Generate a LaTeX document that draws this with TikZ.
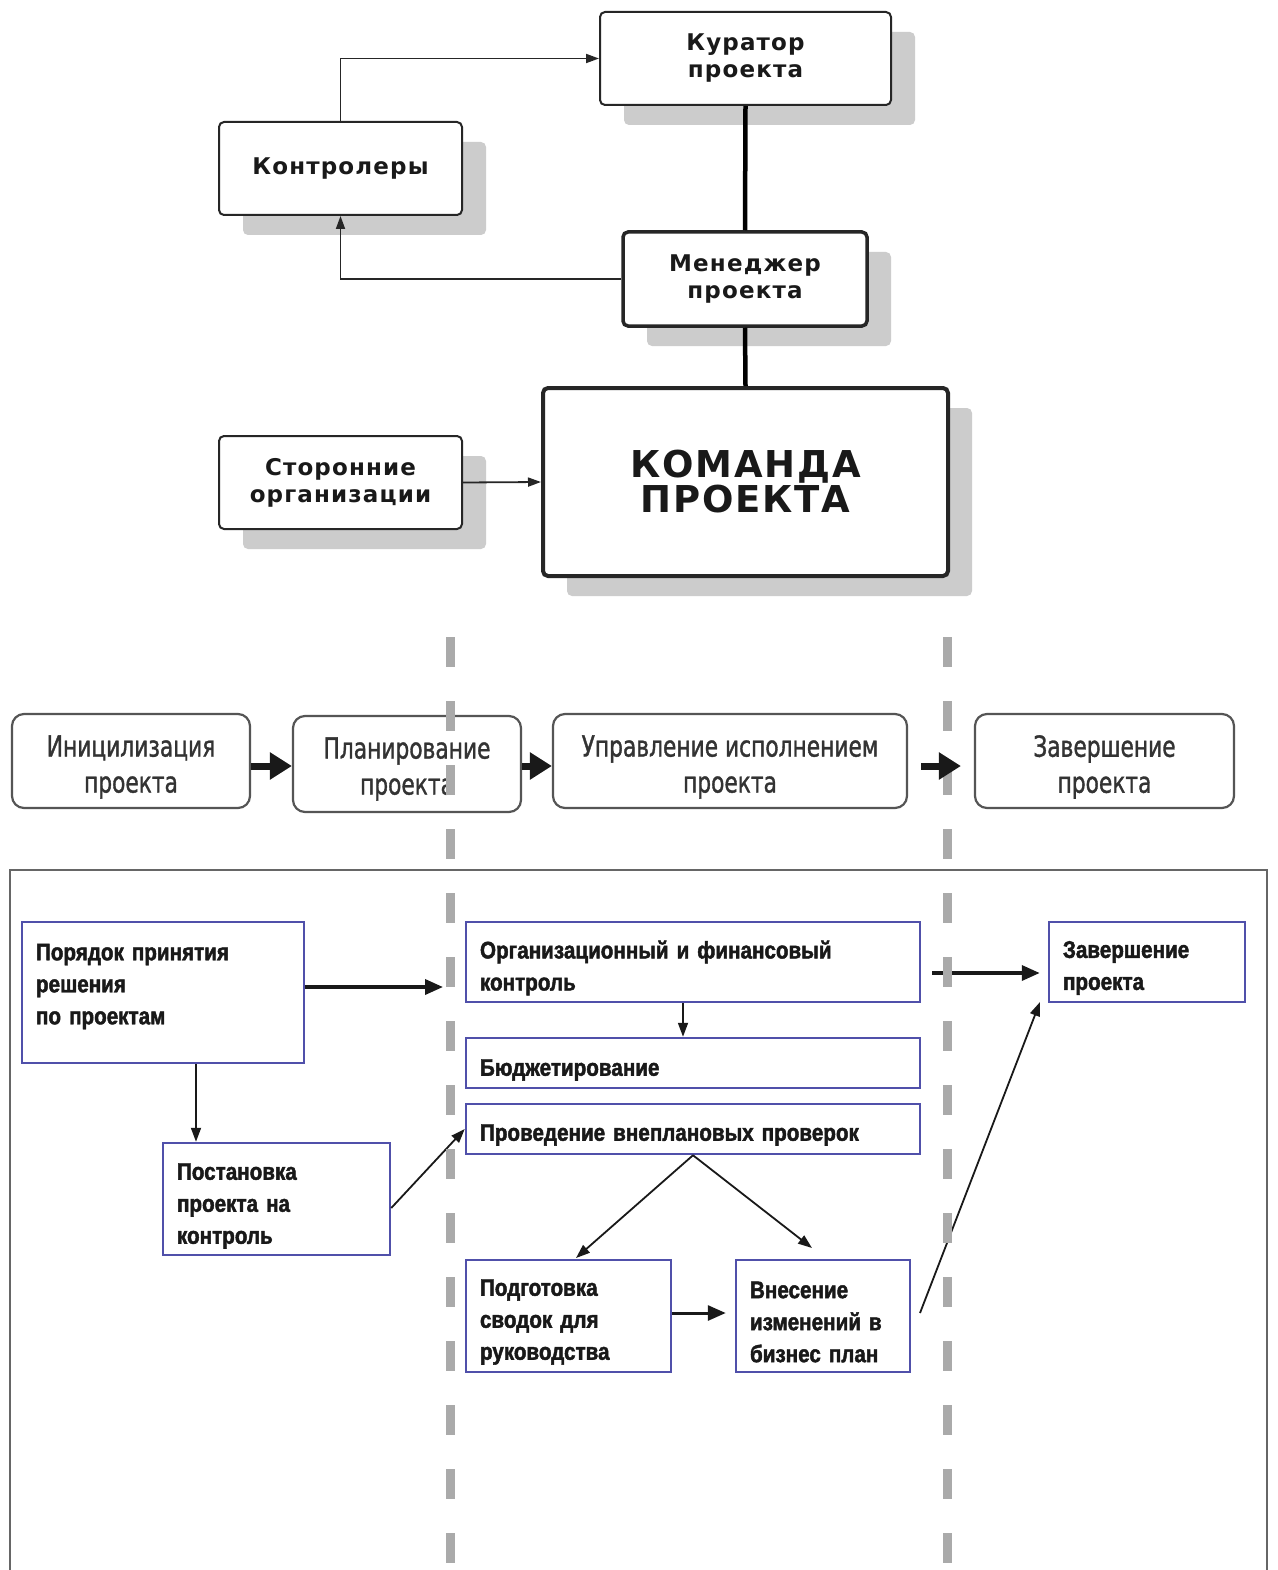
\documentclass[tikz,border=0pt]{standalone}
\usepackage{fontspec}
\usetikzlibrary{shadows,arrows.meta,calc}
\newfontfamily\topfont[LetterSpace=5]{DejaVu Sans}
\newfontfamily\phasefont[FakeStretch=0.75,FakeBold=1.2]{DejaVu Sans}
\newfontfamily\boxfont[FakeStretch=0.86,FakeBold=1.8]{Liberation Sans}
\definecolor{bordblue}{RGB}{80,80,170}
\definecolor{shadowgray}{RGB}{204,204,204}
\definecolor{dashgray}{RGB}{170,170,170}
\definecolor{phaseline}{RGB}{85,85,85}
\begin{document}
\begin{tikzpicture}[x=1pt,y=-1pt,
  topbox/.style={draw=black!85, line width=2pt, rounded corners=5pt, fill=white, align=center, inner sep=0pt,
     drop shadow={shadow xshift=24pt, shadow yshift=-20pt, fill=shadowgray, opacity=1},
     font=\topfont\bfseries\fontsize{23}{27}\selectfont, text=black!90},
  thinarrow/.style={draw=black!85, line width=1.8pt, -{Triangle[length=13pt,width=9pt]}},
  heavyline/.style={draw=black, line width=4.5pt},
  phasebox/.style={draw=phaseline, line width=2.2pt, rounded corners=12pt, fill=white, inner sep=0pt},
  phasetext/.style={align=center, inner sep=0pt, yshift=-6pt,
     font=\phasefont\fontsize{29}{36}\selectfont, text=black!80},
  phasearrow/.style={draw=black!90, line width=7pt, -{Triangle[length=22pt,width=26pt]}},
  ibox/.style={draw=bordblue, line width=2.5pt, fill=white, inner sep=0pt},
  itext/.style={align=left, inner sep=0pt, yshift=-6pt,
     font=\boxfont\bfseries\fontsize{24}{32}\selectfont, text=black!90},
  midarrow/.style={draw=black!90, line width=3.5pt, -{Triangle[length=18pt,width=15pt]}},
  smallarrow/.style={draw=black!90, line width=1.8pt, -{Triangle[length=14pt,width=10pt]}},
  dashline/.style={draw=dashgray, line width=9pt, dash pattern=on 30pt off 34pt}
]
\useasboundingbox (0,0) rectangle (1277,1570);
\fill[white] (0,0) rectangle (1277,1570);

% ---------- top organisation chart ----------
\node[topbox, minimum width=291, minimum height=93] (kur) at (745.5,58.5) {Куратор\\проекта};
\node[topbox, minimum width=243, minimum height=93] (kon) at (340.5,168.5) {Контролеры};
\node[topbox, line width=3.5pt, minimum width=244, minimum height=94] (men) at (745,279) {Менеджер\\проекта};
\node[topbox, line width=4pt, minimum width=405, minimum height=188,
      font=\topfont\bfseries\fontsize{37}{35}\selectfont] (kom) at (745.5,482) {КОМАНДА\\ПРОЕКТА};
\node[topbox, minimum width=243, minimum height=93] (sto) at (340.5,482.5) {Сторонние\\организации};

\draw[thinarrow] (kon.north) |- (kur.west);
\draw[thinarrow] (men.west) -| (kon.south);
\draw[heavyline] (kur.south) -- (men.north);
\draw[heavyline] (men.south) -- (kom.north);
\draw[thinarrow] (sto.east) -- (kom.west);

% ---------- phases ----------
\node[phasebox, minimum width=238, minimum height=94,
      label={[phasetext]center:{Иницилизация\\проекта}}] (p1) at (131,761) {};
\node[phasebox, minimum width=228, minimum height=96,
      label={[phasetext, yshift=1pt]center:{Планирование\\проекта}}] (p2) at (407,764) {};
\node[phasebox, minimum width=354, minimum height=94,
      label={[phasetext]center:{Управление исполнением\\проекта}}] (p3) at (730,761) {};
\node[phasebox, minimum width=259, minimum height=94,
      label={[phasetext]center:{Завершение\\проекта}}] (p4) at (1104.5,761) {};

\draw[phasearrow] ([yshift=-5pt]p1.east) -- ([yshift=-2pt]p2.west);
\draw[phasearrow] ([yshift=-2pt]p2.east) -- ([yshift=-5pt]p3.west);

% ---------- lower frame ----------
\draw[draw=black!60, line width=2pt] (10,1590) -- (10,870) -- (1267,870) -- (1267,1590);

\node[ibox, minimum width=282, minimum height=141,
      label={[itext, text width=254, yshift=12pt]center:{Порядок принятия\\решения\\по проектам}}] (b1) at (163,992.5) {};
\node[ibox, minimum width=227, minimum height=112,
      label={[itext, text width=199, yshift=-1pt]center:{Постановка\\проекта на\\контроль}}] (b2) at (276.5,1199) {};
\node[ibox, minimum width=454, minimum height=80,
      label={[itext, text width=426]center:{Организационный и финансовый\\контроль}}] (b3) at (693,962) {};
\node[ibox, minimum width=454, minimum height=50,
      label={[itext, text width=426, yshift=-1pt]center:{Бюджетирование}}] (b4) at (693,1063) {};
\node[ibox, minimum width=454, minimum height=50,
      label={[itext, text width=426]center:{Проведение внеплановых проверок}}] (b5) at (693,1129) {};
\node[ibox, minimum width=205, minimum height=112,
      label={[itext, text width=177]center:{Подготовка\\сводок для\\руководства}}] (b6) at (568.5,1316) {};
\node[ibox, minimum width=174, minimum height=112,
      label={[itext, text width=146]center:{Внесение\\изменений в\\бизнес план}}] (b7) at (823,1316) {};
\node[ibox, minimum width=196, minimum height=80,
      label={[itext, text width=168]center:{Завершение\\проекта}}] (b8) at (1147,962) {};

\coordinate (x196) at (196,0);
\coordinate (a1end) at (443,987);
\coordinate (a6end) at (576,1258);
\coordinate (a7end) at (812,1248);
\coordinate (a8start) at (920,1313);
\coordinate (a8end) at (1040,1002);

\draw[midarrow] (b1.east |- a1end) -- (a1end);
\draw[smallarrow] (b1.south -| x196) -- (b2.north -| x196);
\draw[smallarrow] ([yshift=-9pt]b2.east) -- (b5.west);
\draw[smallarrow] ([xshift=-10pt]b3.south) -- ([xshift=-10pt]b4.north);
\draw[smallarrow] (b5.south) -- (a6end);
\draw[smallarrow] (b5.south) -- (a7end);
\draw[midarrow, line width=3pt, shorten >=9pt] ([yshift=3pt]b6.east) -- ([yshift=3pt]b7.west);
\draw[smallarrow] (a8start) -- (a8end);
\draw[midarrow, shorten <=11pt, shorten >=8pt] ([yshift=-11pt]b3.east) -- ([yshift=-11pt]b8.west);

% ---------- dashed phase separators ----------
\draw[dashline] (450,637) -- (450,1600);
\draw[dashline] (947,637) -- (947,1600);

\draw[phasearrow, shorten <=13pt, shorten >=13pt] ([yshift=-5pt]p3.east) -- ([yshift=-5pt]p4.west);
\end{tikzpicture}
\end{document}
